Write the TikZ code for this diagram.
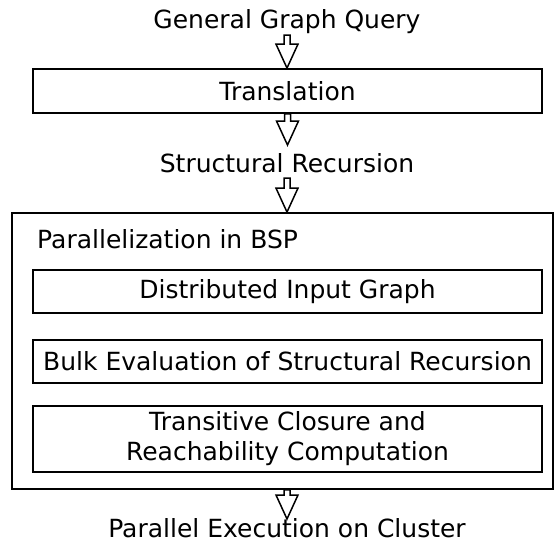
\documentclass[tikz,border=0pt]{standalone}
\usepackage{fontspec}
\setmainfont{DejaVu Sans}
\usetikzlibrary{calc}
\tikzset{
  box/.style={draw=black, line width=1.8pt, inner sep=0pt, minimum width=509pt, align=center},
  lbl/.style={inner sep=0pt, anchor=base},
  blockarr/.style={draw=black, fill=white, line width=1.5pt, line join=miter},
}
\newcommand\blockarrow[2]{%
  \draw[blockarr] let \p1=(#1), \p2=(#2) in
    (\x1-3pt,\y1) -- (\x1+3pt,\y1) -- (\x1+3pt,\y2+24pt) -- (\x1+11pt,\y2+24pt)
    -- (\x1,\y2) -- (\x1-11pt,\y2+24pt) -- (\x1-3pt,\y2+24pt) -- cycle;}
\begin{document}
\begin{tikzpicture}[x=1pt,y=-1pt,font=\fontsize{25}{30}\selectfont]
\useasboundingbox (0,0) rectangle (555,544);
% text and boxes
\node[lbl] (q) at (287,28) {General Graph Query};
\node[box, minimum height=44pt] (tr) at (287.5,91) {Translation};
\node[lbl] (sr) at (287,172) {Structural Recursion};
\node[draw=black, line width=1.8pt, minimum width=541pt, minimum height=276pt, inner sep=0pt] (bsp) at (282.5,351) {};
\node[inner sep=0pt, anchor=base west] (title) at (37,248) {Parallelization in BSP};
\node[box, minimum height=43pt] (b1) at (287.5,291.5) {Distributed Input Graph};
\node[box, minimum height=43pt] (b2) at (287.5,361.5) {Bulk Evaluation of Structural Recursion};
\node[box, minimum height=66pt] (b3) at (287.5,439) {Transitive Closure and\\Reachability Computation};
\node[lbl] (out) at (287,537) {Parallel Execution on Cluster};
% connector anchor points
\coordinate (a1s) at (287,35);
\coordinate (a2e) at (287,145);
\coordinate (a3s) at (287,178);
\coordinate (a4e) at (287,519);
% block arrows
\blockarrow{a1s}{tr.north}
\blockarrow{tr.south}{a2e}
\blockarrow{a3s}{bsp.north}
\blockarrow{bsp.south -| a4e}{a4e}
\end{tikzpicture}
\end{document}
